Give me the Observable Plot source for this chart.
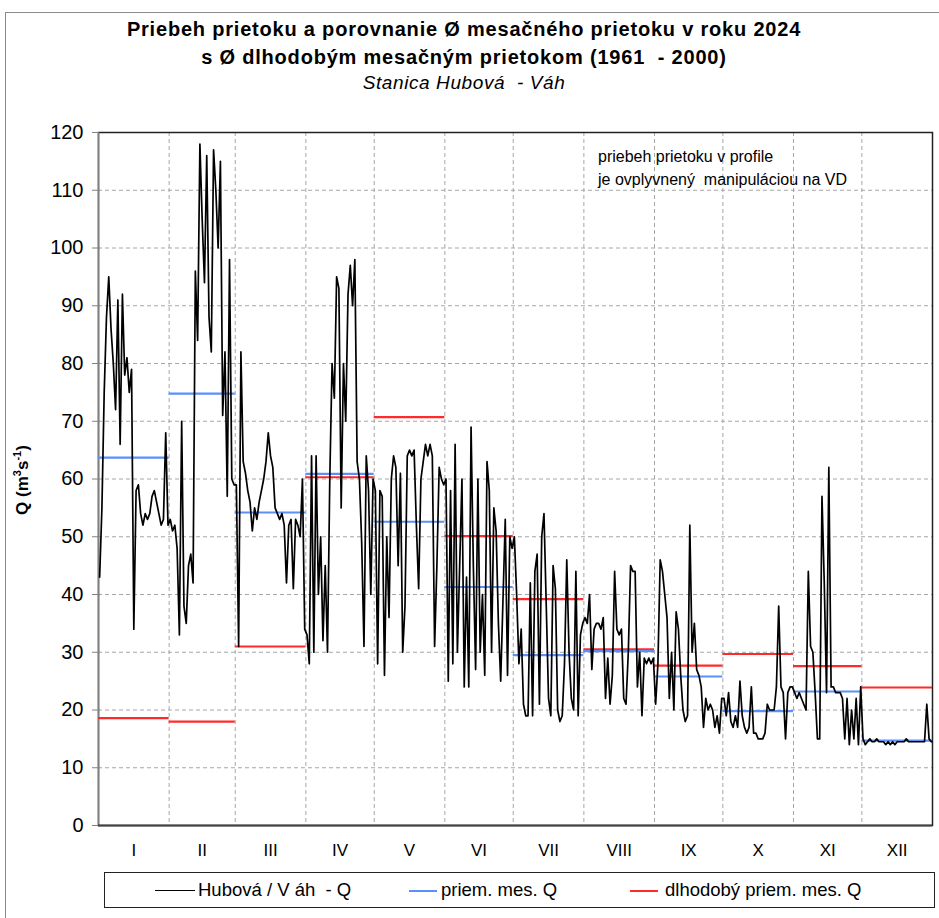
<!DOCTYPE html>
<html><head><meta charset="utf-8">
<script src="https://cdn.jsdelivr.net/npm/d3@7"></script>
<script src="https://cdn.jsdelivr.net/npm/@observablehq/plot@0.6"></script>
<style>
body{margin:0;background:#fff;font-family:"Liberation Sans",Arial,sans-serif;color:#000;}
#wrap{position:relative;width:939px;height:918px;overflow:hidden;background:#fff;}
#border{position:absolute;left:5px;top:12px;width:960px;height:940px;border:1px solid #8c8c8c;box-sizing:border-box;}
.t{position:absolute;left:0;width:928px;text-align:center;white-space:nowrap;}
#t1{top:18px;font-size:20px;font-weight:bold;letter-spacing:0.8px;}
#t2{top:46px;font-size:20px;font-weight:bold;letter-spacing:0.8px;}
#t3{top:72px;font-size:19px;font-style:italic;letter-spacing:0.6px;}
#chart{position:absolute;left:0;top:105px;}
#ylab{position:absolute;left:22px;top:480px;transform:translate(-50%,-50%) rotate(-90deg);font-size:17px;font-weight:bold;white-space:nowrap;}
#ylab sup{font-size:11px;}
.note{position:absolute;left:598px;font-size:16px;white-space:nowrap;}
#legend{position:absolute;left:104px;top:872px;width:831px;height:36px;border:1.5px solid #222;box-sizing:border-box;}
.li{position:absolute;top:6px;font-size:18.5px;white-space:nowrap;}
.sw{position:absolute;top:17px;height:0;}
</style></head>
<body>
<div id="wrap">
<div id="border"></div>
<div class="t" id="t1">Priebeh prietoku a porovnanie Ø mesačného prietoku v roku 2024</div>
<div class="t" id="t2">s Ø dlhodobým mesačným prietokom (1961 &nbsp;- 2000)</div>
<div class="t" id="t3">Stanica Hubová &nbsp;- Váh</div>
<div id="chart"></div>
<div id="ylab">Q (m<sup>3</sup>s<sup>-1</sup>)</div>
<div class="note" style="top:148px">priebeh prietoku v profile</div>
<div class="note" style="top:171px">je ovplyvnený &nbsp;manipuláciou na VD</div>
<div id="legend">
  <div class="sw" style="left:50px;width:40px;border-top:1.5px solid #000"></div>
  <div class="li" style="left:93px">Hubová / V áh &nbsp;- Q</div>
  <div class="sw" style="left:304px;width:28px;border-top:2px solid #5b8ff9"></div>
  <div class="li" style="left:336px">priem. mes. Q</div>
  <div class="sw" style="left:525px;width:28px;border-top:2px solid #ff2a2a"></div>
  <div class="li" style="left:560px">dlhodobý priem. mes. Q</div>
</div>
</div>
<script>
// Daily discharge 2024 (m3/s)
const qJan = [43,55,75,88,95,86,80,72,91,66,92,78,81,75,79,34,58,59,54,52,54,53,54,57,58,56,54,52,53,68,52];
const qFeb = [53,51,52,48,33,70,38,35,45,47,42,96,84,118,105,94,116,88,82,117,110,100,115,71,82,57,98,60,59];
const qMar = [59,31,82,63,61,58,56,51,55,53,56,58,60,63,68,64,62,55,54,53,54,52,42,52,53,41,53,52,50,60,34];
const qApr = [33,28,64,30,64,40,50,32,45,30,60,80,74,95,93,55,80,70,92,97,90,98,63,60,49,31,64,58,40,60];
const qMay = [58,28,58,57,26,50,36,60,64,62,45,61,30,38,64,65,64,65,52,41,60,63,66,64,66,64,31,45,62,60,59];
const qJun = [60,25,58,28,66,30,45,60,24,43,24,69,45,27,60,30,40,26,63,58,30,55,51,35,25,39,53,26,50,48];
const qJul = [50,40,28,34,21,19,19,42,19,44,47,21,50,54,38,22,19,45,41,20,18,19,28,46,30,22,20,44,19,33,35];
const qAug = [36,35,40,27,34,35,35,34,36,22,29,21,26,44,34,33,34,22,21,30,45,44,44,24,30,19,29,28,29,28,29];
const qSep = [21,28,46,44,40,36,22,30,20,37,34,26,20,18,19,52,30,35,27,26,24,17,22,20,21,20,17,19,16,22];
const qOct = [22,19,23,18,17,19,17,25,19,17,16,17,24,16,16,15,15,15,16,21,20,20,20,24,38,24,23,15,23,24,24];
const qNov = [23,22,23,22,21,20,44,31,30,23,15,15,57,42,23,62,24,24,23,23,23,22,15,22,14,20,15,22,14,24];
const qDec = [15,14,14.5,15,14.5,14.5,15,14.5,14.5,14.5,14,14.5,14,14.5,14,14.5,14.5,14.5,14.5,15,14.5,14.5,14.5,14.5,14.5,14.5,14.5,14.5,21,15,14.5];

const months = ["I","II","III","IV","V","VI","VII","VIII","IX","X","XI","XII"];
const meanQ2024 = [63.7,74.8,54.2,60.9,52.6,41.3,29.5,30.2,25.8,19.8,23.2,14.7];
const meanLongTerm = [18.6,18.0,31.0,60.3,70.7,50.1,39.2,30.5,27.7,29.7,27.6,23.9];
const yTicks = [0,10,20,30,40,50,60,70,80,90,100,110,120];

const monthly = [qJan,qFeb,qMar,qApr,qMay,qJun,qJul,qAug,qSep,qOct,qNov,qDec];
const series = [];
const mrows = [];
let day = 0;
monthly.forEach((arr, m) => {
  const start = day;
  arr.forEach(v => { series.push({day: day + 0.5, q: v}); day++; });
  mrows.push({m, label: months[m], start, end: day, mid: (start + day) / 2, avg: meanQ2024[m], lt: meanLongTerm[m]});
});
const totalDays = day;
const labelByMid = new Map(mrows.map(d => [d.mid, d.label]));

const plot = Plot.plot({
  width: 939, height: 770,
  marginLeft: 98, marginRight: 7, marginTop: 27, marginBottom: 50,
  style: {fontFamily: "Liberation Sans, Arial, sans-serif", color: "#000", background: "transparent"},
  x: {domain: [0, totalDays], axis: null},
  y: {domain: [0, 120], axis: null},
  marks: [
    Plot.ruleY(yTicks.filter(d => d > 0 && d < 120), {stroke: "#a6a6a6", strokeDasharray: "4,3", strokeWidth: 1}),
    Plot.ruleX(mrows.slice(1), {x: "start", stroke: "#a6a6a6", strokeDasharray: "4,3", strokeWidth: 1}),
    Plot.frame({stroke: "#222", strokeWidth: 1.5}),
    Plot.ruleX([0], {stroke: "#808080", strokeWidth: 1.5}),
    Plot.ruleY([0], {stroke: "#444", strokeWidth: 2}),
    Plot.ruleY(mrows, {y: "lt", x1: "start", x2: "end", stroke: "#ff2a2a", strokeWidth: 2.2}),
    Plot.ruleY(mrows, {y: "avg", x1: "start", x2: "end", stroke: "#5b8ff9", strokeWidth: 2.2}),
    Plot.line(series, {x: "day", y: "q", stroke: "#000", strokeWidth: 1.7, curve: "linear"}),
    Plot.axisY(yTicks, {anchor: "left", tickSize: 6, tickPadding: 9, fontSize: 20, stroke: "#808080", fill: "#000", label: null}),
    Plot.axisX(mrows.map(d => d.mid), {anchor: "bottom", tickSize: 0, tickPadding: 18, fontSize: 17, tickFormat: d => labelByMid.get(d), label: null})
  ]
});
document.getElementById("chart").appendChild(plot);
</script>
</body></html>
